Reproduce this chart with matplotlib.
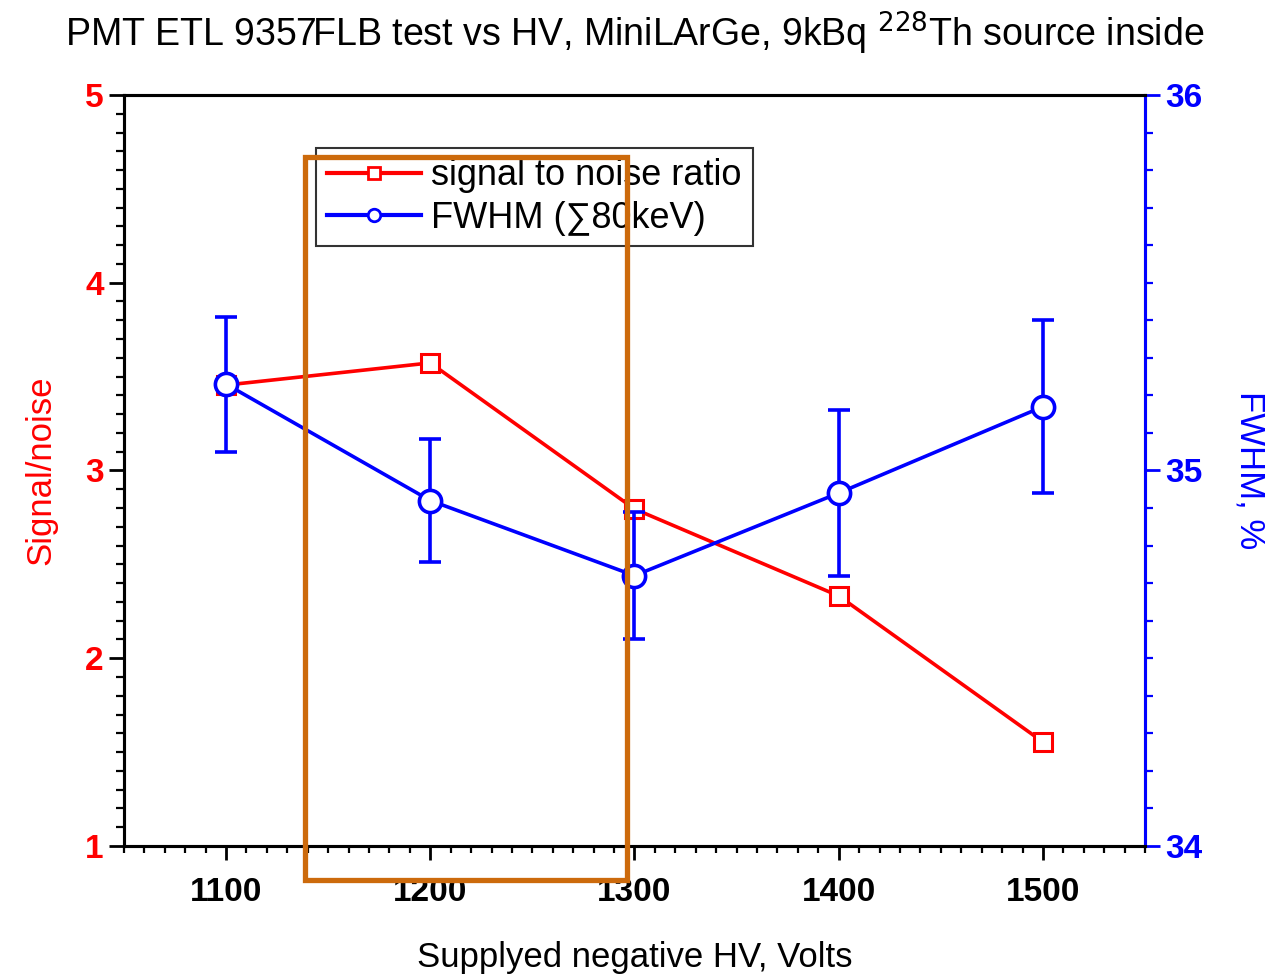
import matplotlib
matplotlib.use("Agg")
import matplotlib.pyplot as plt
from matplotlib.patches import Rectangle
from matplotlib.lines import Line2D
from matplotlib.ticker import MultipleLocator

plt.rcParams['font.family'] = ['Liberation Sans', 'DejaVu Sans']

hv = [1100, 1200, 1300, 1400, 1500]
snr = [3.455, 3.573, 2.795, 2.332, 1.554]
fwhm = [35.23, 34.92, 34.72, 34.94, 35.17]
fwhm_err = [0.18, 0.163, 0.17, 0.22, 0.23]

red = '#ff0000'
blue = '#0000ff'

fig = plt.figure(figsize=(12.7, 9.76), dpi=100)
ax = fig.add_axes([0.0976, 0.1332, 0.8040, 0.7695])
ax2 = ax.twinx()

ax.plot(hv, snr, '-s', color=red, lw=2.6, ms=13, mfc='white', mec=red, mew=2.2)
ax2.errorbar(hv, fwhm, yerr=fwhm_err, fmt='-o', color=blue, lw=2.6, ms=16,
             mfc='white', mec=blue, mew=2.6, elinewidth=2.6, capsize=8, capthick=2.6)

ax.set_xlim(1050, 1550)
ax.set_ylim(1, 5)
ax2.set_ylim(34, 36)

ax.xaxis.set_major_locator(MultipleLocator(100))
ax.xaxis.set_minor_locator(MultipleLocator(10))
ax.yaxis.set_major_locator(MultipleLocator(1))
ax.yaxis.set_minor_locator(MultipleLocator(0.1))
ax2.yaxis.set_major_locator(MultipleLocator(1))
ax2.yaxis.set_minor_locator(MultipleLocator(0.1))

for sp in ax.spines.values():
    sp.set_linewidth(2.2)
for sp in ax2.spines.values():
    sp.set_linewidth(2.2)
ax2.spines['right'].set_color(blue)

ax.tick_params(axis='x', which='major', direction='out', length=10, width=2, pad=12)
ax.tick_params(axis='x', which='minor', direction='out', length=5, width=1.6)
ax.tick_params(axis='y', which='major', direction='out', length=11, width=2, colors='black',
               labelcolor=red)
ax.tick_params(axis='y', which='minor', direction='out', length=6, width=1.6)
ax2.tick_params(axis='y', which='major', direction='out', length=11, width=2, color=blue,
                labelcolor=blue)
ax2.tick_params(axis='y', which='minor', direction='out', length=6, width=1.6, color=blue)

for lab in ax.get_xticklabels() + ax.get_yticklabels() + ax2.get_yticklabels():
    lab.set_fontweight('bold')
    lab.set_fontsize(24)

ax.set_xlabel('Supplyed negative HV, Volts', fontsize=25, labelpad=24)
ax.set_ylabel('Signal/noise', fontsize=25, color=red, labelpad=20)
ax2.set_ylabel('FWHM, %', fontsize=25, color=blue, rotation=-90, labelpad=46)

fig.suptitle('PMT ETL 9357FLB test vs HV, MiniLArGe, 9kBq $^{228}$Th source inside',
             fontsize=27, y=0.99)

h1 = Line2D([], [], color=red, lw=3, marker='s', ms=8, mfc='white', mec=red, mew=2)
h2 = Line2D([], [], color=blue, lw=3, marker='o', ms=9, mfc='white', mec=blue, mew=2)
leg = ax2.legend([h1, h2], ['signal to noise ratio', 'FWHM (\u221180keV)'],
                 loc='upper left', bbox_to_anchor=(0.188, 0.93), fontsize=26,
                 frameon=True, fancybox=False, edgecolor='black', handlelength=2.6,
                 borderpad=0.3, labelspacing=0.2, handletextpad=0.3, borderaxespad=0)
leg.get_frame().set_linewidth(1.5)

# orange highlight box drawn over the chart
rect = Rectangle((1138.5, 0.82), 158, 3.85, transform=ax.transData, fill=False,
                 edgecolor='#cc6a0c', lw=3.8, clip_on=False, zorder=10)
ax2.add_patch(rect)

fig.savefig('out.png', dpi=100)
